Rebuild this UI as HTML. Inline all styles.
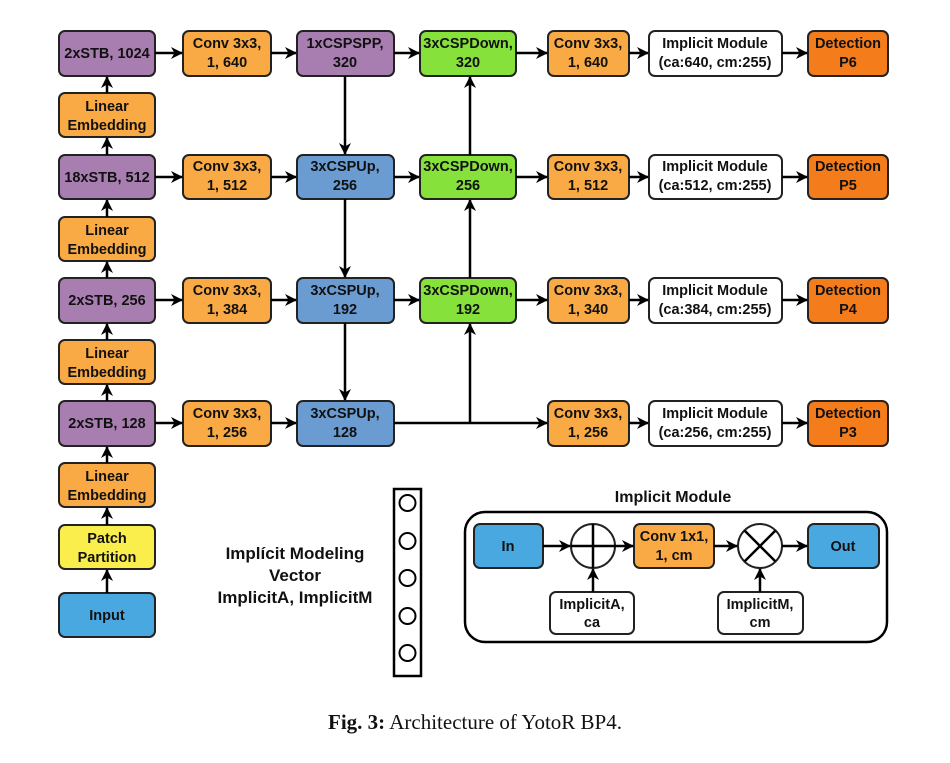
<!DOCTYPE html>
<html><head><meta charset="utf-8"><style>
body{margin:0;background:#fff}
text{font-family:"Liberation Sans",sans-serif;font-weight:bold;font-size:14.5px;text-anchor:middle;fill:#111}
.b{stroke:#222;stroke-width:2}
.l{stroke:#000;stroke-width:2.5;fill:none}
</style></head><body>
<svg width="950" height="758" viewBox="0 0 950 758" xmlns="http://www.w3.org/2000/svg">
<defs><marker id="a" markerWidth="12" markerHeight="12" refX="11" refY="6" orient="auto" markerUnits="userSpaceOnUse"><path d="M0,0 L12,6 L0,12 L3.5,6z" fill="#000"/></marker></defs>
<g class="b">
<rect x="59" y="31" width="96" height="45" rx="6" fill="#a87db0"/>
<rect x="59" y="93" width="96" height="44" rx="6" fill="#f9aa44"/>
<rect x="59" y="155" width="96" height="44" rx="6" fill="#a87db0"/>
<rect x="59" y="217" width="96" height="44" rx="6" fill="#f9aa44"/>
<rect x="59" y="278" width="96" height="45" rx="6" fill="#a87db0"/>
<rect x="59" y="340" width="96" height="44" rx="6" fill="#f9aa44"/>
<rect x="59" y="401" width="96" height="45" rx="6" fill="#a87db0"/>
<rect x="59" y="463" width="96" height="44" rx="6" fill="#f9aa44"/>
<rect x="59" y="525" width="96" height="44" rx="6" fill="#f9ee4b"/>
<rect x="59" y="593" width="96" height="44" rx="6" fill="#4aa8e0"/>
<rect x="183" y="31" width="88" height="45" rx="6" fill="#f9aa44"/>
<rect x="183" y="155" width="88" height="44" rx="6" fill="#f9aa44"/>
<rect x="183" y="278" width="88" height="45" rx="6" fill="#f9aa44"/>
<rect x="183" y="401" width="88" height="45" rx="6" fill="#f9aa44"/>
<rect x="297" y="31" width="97" height="45" rx="6" fill="#a87db0"/>
<rect x="297" y="155" width="97" height="44" rx="6" fill="#6a9bd1"/>
<rect x="297" y="278" width="97" height="45" rx="6" fill="#6a9bd1"/>
<rect x="297" y="401" width="97" height="45" rx="6" fill="#6a9bd1"/>
<rect x="420" y="31" width="96" height="45" rx="6" fill="#86e23b"/>
<rect x="420" y="155" width="96" height="44" rx="6" fill="#86e23b"/>
<rect x="420" y="278" width="96" height="45" rx="6" fill="#86e23b"/>
<rect x="548" y="31" width="81" height="45" rx="6" fill="#f9aa44"/>
<rect x="548" y="155" width="81" height="44" rx="6" fill="#f9aa44"/>
<rect x="548" y="278" width="81" height="45" rx="6" fill="#f9aa44"/>
<rect x="548" y="401" width="81" height="45" rx="6" fill="#f9aa44"/>
<rect x="649" y="31" width="133" height="45" rx="6" fill="#fff"/>
<rect x="649" y="155" width="133" height="44" rx="6" fill="#fff"/>
<rect x="649" y="278" width="133" height="45" rx="6" fill="#fff"/>
<rect x="649" y="401" width="133" height="45" rx="6" fill="#fff"/>
<rect x="808" y="31" width="80" height="45" rx="6" fill="#f57c1a"/>
<rect x="808" y="155" width="80" height="44" rx="6" fill="#f57c1a"/>
<rect x="808" y="278" width="80" height="45" rx="6" fill="#f57c1a"/>
<rect x="808" y="401" width="80" height="45" rx="6" fill="#f57c1a"/>
</g>
<g class="l" marker-end="url(#a)">
<line x1="107" y1="593" x2="107" y2="570"/>
<line x1="107" y1="525" x2="107" y2="508"/>
<line x1="107" y1="463" x2="107" y2="447"/>
<line x1="107" y1="401" x2="107" y2="385"/>
<line x1="107" y1="340" x2="107" y2="324"/>
<line x1="107" y1="278" x2="107" y2="262"/>
<line x1="107" y1="217" x2="107" y2="200"/>
<line x1="107" y1="155" x2="107" y2="138"/>
<line x1="107" y1="93" x2="107" y2="77"/>
<line x1="155" y1="53" x2="182" y2="53"/><line x1="271" y1="53" x2="296" y2="53"/><line x1="394" y1="53" x2="419" y2="53"/><line x1="516" y1="53" x2="547" y2="53"/><line x1="629" y1="53" x2="648" y2="53"/><line x1="782" y1="53" x2="807" y2="53"/>
<line x1="155" y1="177" x2="182" y2="177"/><line x1="271" y1="177" x2="296" y2="177"/><line x1="394" y1="177" x2="419" y2="177"/><line x1="516" y1="177" x2="547" y2="177"/><line x1="629" y1="177" x2="648" y2="177"/><line x1="782" y1="177" x2="807" y2="177"/>
<line x1="155" y1="300" x2="182" y2="300"/><line x1="271" y1="300" x2="296" y2="300"/><line x1="394" y1="300" x2="419" y2="300"/><line x1="516" y1="300" x2="547" y2="300"/><line x1="629" y1="300" x2="648" y2="300"/><line x1="782" y1="300" x2="807" y2="300"/>
<line x1="155" y1="423" x2="182" y2="423"/><line x1="271" y1="423" x2="296" y2="423"/><line x1="394" y1="423" x2="547" y2="423"/><line x1="629" y1="423" x2="648" y2="423"/><line x1="782" y1="423" x2="807" y2="423"/>
<line x1="345" y1="76" x2="345" y2="154"/><line x1="345" y1="199" x2="345" y2="277"/><line x1="345" y1="323" x2="345" y2="400"/>
<line x1="470" y1="423" x2="470" y2="324"/><line x1="470" y1="278" x2="470" y2="200"/><line x1="470" y1="155" x2="470" y2="77"/>
</g>
<g>
<text x="107" y="58">2xSTB, 1024</text>
<text x="107" y="111">Linear</text><text x="107" y="130">Embedding</text>
<text x="107" y="182">18xSTB, 512</text>
<text x="107" y="235">Linear</text><text x="107" y="254">Embedding</text>
<text x="107" y="305">2xSTB, 256</text>
<text x="107" y="358">Linear</text><text x="107" y="377">Embedding</text>
<text x="107" y="428">2xSTB, 128</text>
<text x="107" y="481">Linear</text><text x="107" y="500">Embedding</text>
<text x="107" y="543">Patch</text><text x="107" y="562">Partition</text>
<text x="107" y="620">Input</text>
<text x="227" y="48">Conv 3x3,</text><text x="227" y="67">1, 640</text>
<text x="227" y="171">Conv 3x3,</text><text x="227" y="190">1, 512</text>
<text x="227" y="295">Conv 3x3,</text><text x="227" y="314">1, 384</text>
<text x="227" y="418">Conv 3x3,</text><text x="227" y="437">1, 256</text>
<text x="345" y="48">1xCSPSPP,</text><text x="345" y="67">320</text>
<text x="345" y="171">3xCSPUp,</text><text x="345" y="190">256</text>
<text x="345" y="295">3xCSPUp,</text><text x="345" y="314">192</text>
<text x="345" y="418">3xCSPUp,</text><text x="345" y="437">128</text>
<text x="468" y="48">3xCSPDown,</text><text x="468" y="67">320</text>
<text x="468" y="171">3xCSPDown,</text><text x="468" y="190">256</text>
<text x="468" y="295">3xCSPDown,</text><text x="468" y="314">192</text>
<text x="588" y="48">Conv 3x3,</text><text x="588" y="67">1, 640</text>
<text x="588" y="171">Conv 3x3,</text><text x="588" y="190">1, 512</text>
<text x="588" y="295">Conv 3x3,</text><text x="588" y="314">1, 340</text>
<text x="588" y="418">Conv 3x3,</text><text x="588" y="437">1, 256</text>
<text x="715" y="48">Implicit Module</text><text x="715" y="67">(ca:640, cm:255)</text>
<text x="715" y="171">Implicit Module</text><text x="715" y="190">(ca:512, cm:255)</text>
<text x="715" y="295">Implicit Module</text><text x="715" y="314">(ca:384, cm:255)</text>
<text x="715" y="418">Implicit Module</text><text x="715" y="437">(ca:256, cm:255)</text>
<text x="848" y="48">Detection</text><text x="848" y="67">P6</text>
<text x="848" y="171">Detection</text><text x="848" y="190">P5</text>
<text x="848" y="295">Detection</text><text x="848" y="314">P4</text>
<text x="848" y="418">Detection</text><text x="848" y="437">P3</text>
</g>
<rect x="394" y="489" width="27" height="187" fill="#fff" stroke="#000" stroke-width="2.5"/>
<g fill="#fff" stroke="#000" stroke-width="2">
<circle cx="407.5" cy="503" r="8"/><circle cx="407.5" cy="541" r="8"/><circle cx="407.5" cy="578" r="8"/><circle cx="407.5" cy="616" r="8"/><circle cx="407.5" cy="653" r="8"/>
</g>
<text x="295" y="559" style="font-size:17px">Implícit Modeling</text>
<text x="295" y="581" style="font-size:17px">Vector</text>
<text x="295" y="603" style="font-size:17px">ImplicitA, ImplicitM</text>
<text x="673" y="502" style="font-size:16px">Implicit Module</text>
<rect x="465" y="512" width="422" height="130" rx="20" fill="#fff" stroke="#000" stroke-width="2.5"/>
<g class="b">
<rect x="474" y="524" width="69" height="44" rx="6" fill="#4aa8e0"/>
<rect x="634" y="524" width="80" height="44" rx="6" fill="#f9aa44"/>
<rect x="808" y="524" width="71" height="44" rx="6" fill="#4aa8e0"/>
<rect x="550" y="592" width="84" height="42" rx="6" fill="#fff"/>
<rect x="718" y="592" width="85" height="42" rx="6" fill="#fff"/>
<circle cx="593" cy="546" r="22" fill="#fff"/>
<circle cx="760" cy="546" r="22" fill="#fff"/>
</g>
<g class="l">
<line x1="571" y1="546" x2="615" y2="546"/><line x1="593" y1="524" x2="593" y2="568"/>
<line x1="744.5" y1="530.5" x2="775.5" y2="561.5"/><line x1="775.5" y1="530.5" x2="744.5" y2="561.5"/>
</g>
<g class="l" marker-end="url(#a)">
<line x1="543" y1="546" x2="570" y2="546"/><line x1="615" y1="546" x2="633" y2="546"/>
<line x1="714" y1="546" x2="737" y2="546"/><line x1="782" y1="546" x2="807" y2="546"/>
<line x1="593" y1="592" x2="593" y2="569"/><line x1="760" y1="592" x2="760" y2="569"/>
</g>
<text x="508" y="551">In</text><text x="843" y="551">Out</text>
<text x="674" y="541">Conv 1x1,</text><text x="674" y="560">1, cm</text>
<text x="592" y="609">ImplicitA,</text><text x="592" y="627">ca</text>
<text x="760" y="609">ImplicitM,</text><text x="760" y="627">cm</text>
<text x="475" y="729" style="font-family:'Liberation Serif',serif;font-weight:normal;font-size:21px"><tspan font-weight="bold">Fig. 3:</tspan> Architecture of YotoR BP4.</text>
</svg>
</body></html>
